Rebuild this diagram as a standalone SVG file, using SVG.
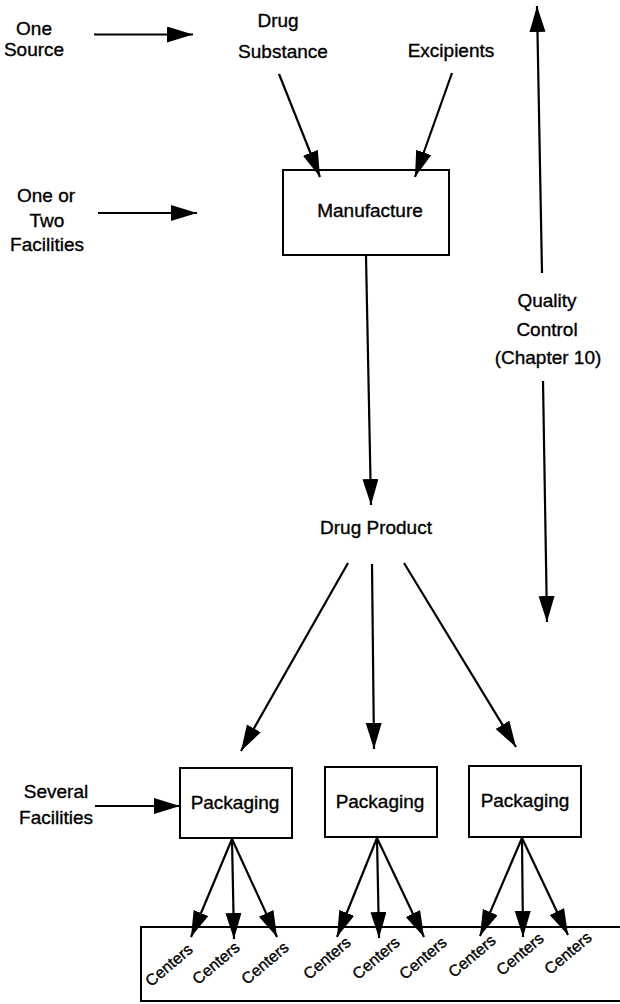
<svg xmlns="http://www.w3.org/2000/svg" width="620" height="1004" viewBox="0 0 620 1004">
<style>
text{font-family:"Liberation Sans",Arial,sans-serif;font-size:19px;fill:#000;stroke:#000;stroke-width:0.35;text-anchor:middle}
.c{font-size:16px;dominant-baseline:central}
.box{fill:#fff;stroke:#000;stroke-width:2}
.ln{stroke:#000;stroke-width:2.2;fill:none;marker-end:url(#ah)}
</style>
<defs>
<marker id="ah" markerUnits="userSpaceOnUse" markerWidth="27" markerHeight="17" refX="26" refY="8" orient="auto" viewBox="0 0 27 17">
<path d="M0,0 L26,8 L0,16 z" fill="#000"/>
</marker>
</defs>
<rect width="620" height="1004" fill="#fff"/>
<g id="labels">
<text x="34" y="35">One</text>
<text x="34" y="56">Source</text>
<text x="46" y="202">One or</text>
<text x="47" y="227">Two</text>
<text x="47" y="251">Facilities</text>
<text x="56" y="798">Several</text>
<text x="56" y="824">Facilities</text>
</g>
<g id="drug-substance"><text x="278" y="27">Drug</text><text x="283" y="58">Substance</text></g>
<g id="excipients"><text x="451" y="57">Excipients</text></g>
<g id="manufacture"><rect class="box" x="283" y="170" width="166" height="85"/><text x="370" y="217">Manufacture</text></g>
<g id="drug-product"><text x="376" y="534">Drug Product</text></g>
<g id="quality-control"><text x="547" y="307">Quality</text><text x="547" y="336">Control</text><text x="548" y="364">(Chapter 10)</text></g>
<g id="packaging1"><rect class="box" x="180" y="768" width="112" height="70"/><text x="235" y="809">Packaging</text></g>
<g id="packaging2"><rect class="box" x="325" y="767" width="112" height="70"/><text x="380" y="808">Packaging</text></g>
<g id="packaging3"><rect class="box" x="469" y="766" width="112" height="71"/><text x="525" y="807">Packaging</text></g>
<g id="centers">
<rect class="box" x="141" y="927" width="482" height="74"/>
<text class="c" transform="rotate(-40 169 965)" x="169" y="965">Centers</text>
<text class="c" transform="rotate(-40 216 963)" x="216" y="963">Centers</text>
<text class="c" transform="rotate(-40 265 963)" x="265" y="963">Centers</text>
<text class="c" transform="rotate(-40 327 958)" x="327" y="958">Centers</text>
<text class="c" transform="rotate(-40 376 958)" x="376" y="958">Centers</text>
<text class="c" transform="rotate(-40 423 958)" x="423" y="958">Centers</text>
<text class="c" transform="rotate(-40 472 956)" x="472" y="956">Centers</text>
<text class="c" transform="rotate(-40 520 954)" x="520" y="954">Centers</text>
<text class="c" transform="rotate(-40 568 953)" x="568" y="953">Centers</text>
</g>
<g id="connectors">
<line class="ln" x1="94" y1="34.5" x2="193" y2="34.5"/>
<line class="ln" x1="98" y1="213" x2="197" y2="213"/>
<line class="ln" x1="95" y1="806" x2="180" y2="806"/>
<line class="ln" x1="279" y1="74" x2="320" y2="177"/>
<line class="ln" x1="452" y1="73" x2="415" y2="177"/>
<line class="ln" x1="366" y1="256" x2="371" y2="505"/>
<line class="ln" x1="542" y1="273" x2="537" y2="6"/>
<line class="ln" x1="543" y1="381" x2="547" y2="622"/>
<line class="ln" x1="348" y1="563" x2="241" y2="751"/>
<line class="ln" x1="372" y1="564" x2="374" y2="749"/>
<line class="ln" x1="404" y1="563" x2="516" y2="747"/>
<line class="ln" x1="232" y1="839" x2="191" y2="937"/>
<line class="ln" x1="232" y1="839" x2="234" y2="939"/>
<line class="ln" x1="232" y1="839" x2="277" y2="937"/>
<line class="ln" x1="377" y1="838" x2="337" y2="937"/>
<line class="ln" x1="377" y1="838" x2="379" y2="938"/>
<line class="ln" x1="377" y1="838" x2="424" y2="937"/>
<line class="ln" x1="522" y1="838" x2="480" y2="936"/>
<line class="ln" x1="522" y1="838" x2="523" y2="937"/>
<line class="ln" x1="522" y1="838" x2="568" y2="935"/>
</g>
</svg>
